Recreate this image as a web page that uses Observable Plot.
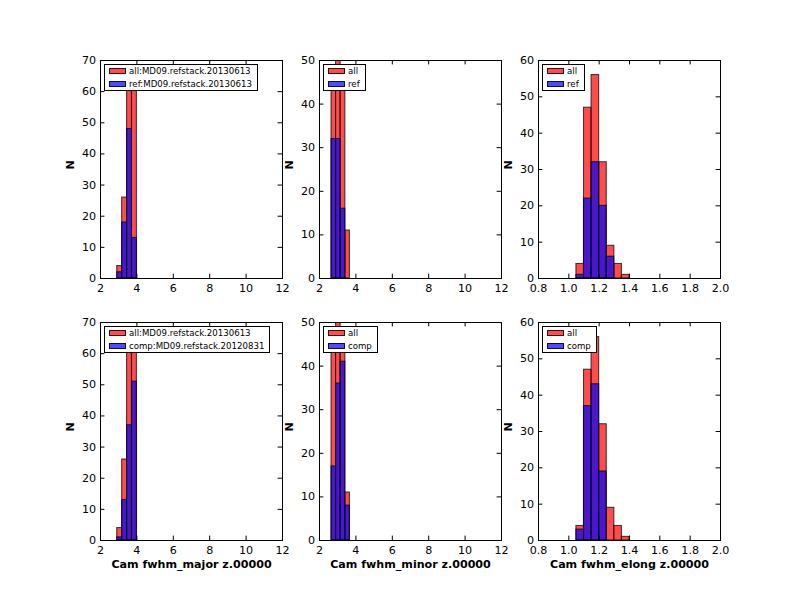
<!DOCTYPE html>
<html><head><meta charset="utf-8">
<script src="https://cdn.jsdelivr.net/npm/d3@7"></script>
<script src="https://cdn.jsdelivr.net/npm/@observablehq/plot@0.6"></script>
<style>
body{margin:0;background:#fff;}
#fig{position:relative;width:800px;height:600px;background:#fff;font-family:"DejaVu Sans",sans-serif;overflow:hidden}
.panel{position:absolute}
.legend{position:absolute;border:1px solid #000;background:#fff;padding:0 5px 0 4px;font-size:8.6px;white-space:nowrap;box-sizing:border-box;height:27px}
.row{display:flex;align-items:center;height:12.5px}
.patch{width:17px;height:6px;border:1px solid rgba(0,0,0,.8);margin-right:3px;box-sizing:border-box}
</style></head>
<body><div id="fig"></div>
<script>
// ---- data ----
const majorEdges = [2.92, 3.19, 3.46, 3.73, 4.0];
const minorEdges = [2.66, 2.91, 3.16, 3.42, 3.67];
const elongEdges = [1.05, 1.10, 1.15, 1.20, 1.25, 1.30, 1.35, 1.40];
const majorRange = [2.92, 12];
const minorRange = [2.66, 12];
const elongRange = [0.9, 2.0];

const allMajor = [4, 26, 62, 61];
const refMajor = [2, 18, 48, 13];
const compMajor = [1, 13, 37, 51];
const allMinor = [46, 50, 46, 11];
const refMinor = [32, 32, 16, 0];
const compMinor = [17, 36, 41, 8];
const allElong = [4, 47, 56, 32, 9, 4, 1];
const refElong = [1, 22, 32, 20, 6, 0, 0];
const compElong = [3, 37, 43, 19, 0, 0, 0];

const fwTicks = [2, 4, 6, 8, 10, 12];
const elongTicks = [0.8, 1.0, 1.2, 1.4, 1.6, 1.8, 2.0];
const majorYTicks = [0, 10, 20, 30, 40, 50, 60, 70];
const minorYTicks = [0, 10, 20, 30, 40, 50];
const elongYTicks = [0, 10, 20, 30, 40, 50, 60];

const allLabel = "all:MD09.refstack.20130613";
const refLabel = "ref:MD09.refstack.20130613";
const compLabel = "comp:MD09.refstack.20120831";
const xLabels = ["Cam fwhm_major z.00000", "Cam fwhm_minor z.00000", "Cam fwhm_elong z.00000"];

// ---- layout ----
const colLeft = [100, 319, 538];
const rowTop = [60, 322];
const W = 182, H = 218;
const mL = 60, mR = 12, mT = 10, mB = 40;
const fig = document.getElementById("fig");

function bars(edges, counts) {
  return counts.map((n, i) => ({x1: edges[i], x2: edges[i + 1], y: n})).filter(d => d.y > 0);
}

function panel(o) {
  const plot = Plot.plot({
    width: W + mL + mR, height: H + mT + mB,
    marginLeft: mL, marginRight: mR, marginTop: mT, marginBottom: mB,
    x: {domain: o.xDomain},
    y: {domain: [0, o.yMax]},
    style: {fontFamily: "DejaVu Sans", fontSize: "11.1px", background: "transparent", overflow: "visible", color: "black"},
    marks: [
      Plot.rectY(bars(o.edges, o.all), {x1: "x1", x2: "x2", y: "y", fill: "red", fillOpacity: 0.7, stroke: "black", strokeOpacity: 0.7, strokeWidth: 1.1, clip: true}),
      Plot.rectY(bars(o.edges, o.sub), {x1: "x1", x2: "x2", y: "y", fill: "blue", fillOpacity: 0.7, stroke: "black", strokeOpacity: 0.7, strokeWidth: 1.1, clip: true}),
      Plot.ruleY([{y: 0, x1: o.range[0], x2: o.range[1]}], {y: "y", x1: "x1", x2: "x2", stroke: "black", strokeOpacity: 0.7, strokeWidth: 1.1}),
      Plot.ruleX(o.xTicks, {x: d => d, insetTop: H - 4.4, stroke: "black"}),
      Plot.ruleX(o.xTicks, {x: d => d, insetBottom: H - 4.4, stroke: "black"}),
      Plot.ruleY(o.yTicks, {y: d => d, insetRight: W - 4.4, stroke: "black"}),
      Plot.ruleY(o.yTicks, {y: d => d, insetLeft: W - 4.4, stroke: "black"}),
      Plot.axisX({ticks: o.xTicks, tickSize: 0, tickPadding: 6, tickFormat: o.xFmt, label: null, fontSize: 11.1}),
      Plot.axisY({ticks: o.yTicks, tickSize: 0, tickPadding: 4.5, label: null, fontSize: 11.1}),
      Plot.text(["N"], {text: d => d, frameAnchor: "left", dx: -30, rotate: -90, fontWeight: "bold", fontSize: 11.1}),
      o.xLabel ? Plot.text([o.xLabel], {text: d => d, frameAnchor: "bottom", dy: 27, fontWeight: "bold", fontSize: 11.1}) : null,
      Plot.frame({stroke: "black", strokeWidth: 1})
    ]
  });
  plot.classList.add("panel");
  plot.style.left = (colLeft[o.col] - mL) + "px";
  plot.style.top = (rowTop[o.row] - mT) + "px";
  fig.appendChild(plot);

  const lg = document.createElement("div");
  lg.className = "legend";
  lg.style.left = (colLeft[o.col] + 4) + "px";
  lg.style.top = (rowTop[o.row] + 4) + "px";
  [[o.allName, "rgba(255,0,0,0.7)"], [o.subName, "rgba(0,0,255,0.7)"]].forEach(([t, c]) => {
    const r = document.createElement("div");
    r.className = "row";
    const p = document.createElement("div");
    p.className = "patch";
    p.style.background = c;
    const s = document.createElement("span");
    s.textContent = t;
    r.appendChild(p); r.appendChild(s);
    lg.appendChild(r);
  });
  fig.appendChild(lg);
}

const f1 = d3.format(".1f");
const panels = [
  {col: 0, row: 0, xDomain: [2, 12], xTicks: fwTicks, yMax: 70, yTicks: majorYTicks, edges: majorEdges, range: majorRange, all: allMajor, sub: refMajor, allName: allLabel, subName: refLabel},
  {col: 1, row: 0, xDomain: [2, 12], xTicks: fwTicks, yMax: 50, yTicks: minorYTicks, edges: minorEdges, range: minorRange, all: allMinor, sub: refMinor, allName: "all", subName: "ref"},
  {col: 2, row: 0, xDomain: [0.8, 2.0], xTicks: elongTicks, xFmt: f1, yMax: 60, yTicks: elongYTicks, edges: elongEdges, range: elongRange, all: allElong, sub: refElong, allName: "all", subName: "ref"},
  {col: 0, row: 1, xDomain: [2, 12], xTicks: fwTicks, yMax: 70, yTicks: majorYTicks, edges: majorEdges, range: majorRange, all: allMajor, sub: compMajor, allName: allLabel, subName: compLabel, xLabel: xLabels[0]},
  {col: 1, row: 1, xDomain: [2, 12], xTicks: fwTicks, yMax: 50, yTicks: minorYTicks, edges: minorEdges, range: minorRange, all: allMinor, sub: compMinor, allName: "all", subName: "comp", xLabel: xLabels[1]},
  {col: 2, row: 1, xDomain: [0.8, 2.0], xTicks: elongTicks, xFmt: f1, yMax: 60, yTicks: elongYTicks, edges: elongEdges, range: elongRange, all: allElong, sub: compElong, allName: "all", subName: "comp", xLabel: xLabels[2]}
];
panels.forEach(panel);
</script>
</body></html>
